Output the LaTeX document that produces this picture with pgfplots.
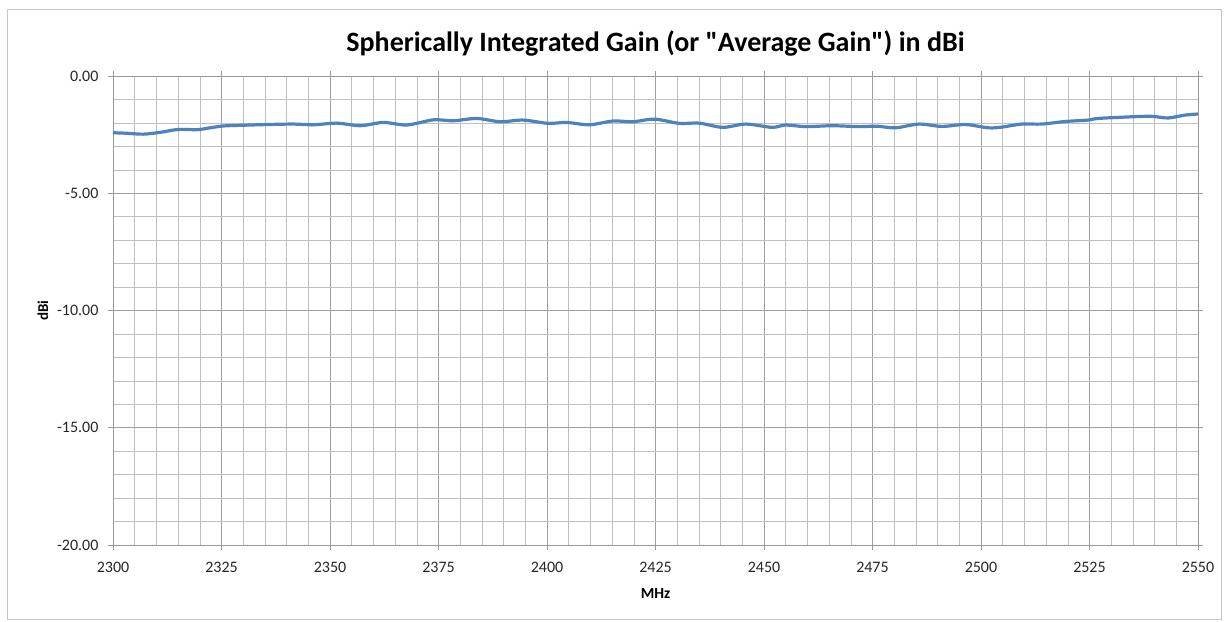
\documentclass[border=0pt]{standalone}
\usepackage{pgfplots}
\pgfplotsset{compat=1.18}
\usepackage{fontspec}
\setmainfont{Carlito}[Ligatures=TeXOff]
\definecolor{exblue}{HTML}{4F81BD}
\begin{document}
\begin{tikzpicture}[x=1pt,y=1pt]
\path[use as bounding box] (-113,-76) rectangle (1112,545);
\draw[gray!45, line width=1pt] (-105,-74) rectangle (1108,535);
\begin{axis}[
  at={(0,0)}, anchor=south west,
  scale only axis, width=1085pt, height=469pt,
  xmin=2300, xmax=2550, ymin=-20, ymax=0,
  xtick={2300,2325,...,2550},
  ytick={-20,-15,...,0},
  minor x tick num=4, minor y tick num=4,
  grid=both,
  major grid style={gray!75, line width=0.6pt},
  minor grid style={gray!50, line width=0.5pt},
  axis line style={gray!80},
  tick style={gray!80, line width=0.6pt},
  major tick length=5pt, minor tick length=0pt,
  tick align=outside,
  xticklabel style={font=\fontsize{16}{18}\selectfont, text=black!85, yshift=-9pt},
  yticklabel style={font=\fontsize{16}{18}\selectfont, text=black!85, xshift=-6pt},
  /pgf/number format/assume math mode=true,
  x tick label style={/pgf/number format/.cd, fixed, 1000 sep={}},
  y tick label style={/pgf/number format/.cd, fixed, fixed zerofill, precision=2},
  scaled ticks=false,
  title={\bfseries Spherically Integrated Gain (or "Average Gain") in dBi},
  title style={font=\fontsize{28}{32}\selectfont, yshift=10pt},
  xlabel={\bfseries MHz},
  ylabel={\bfseries dBi},
  xlabel style={font=\fontsize{15.5}{18}\selectfont, yshift=-9pt},
  ylabel style={font=\fontsize{15}{18}\selectfont, yshift=2pt},
]
\addplot[exblue, line width=3.2pt, smooth, tension=0.5] coordinates {
(2300,-2.42) (2303,-2.44) (2307,-2.48) (2311,-2.40) (2315,-2.28) (2319.5,-2.29)
(2322,-2.22) (2325.5,-2.13) (2330,-2.10) (2335.5,-2.07) (2341.5,-2.05) (2346.3,-2.08)
(2351.6,-2.01) (2357,-2.12) (2362.3,-1.98) (2367.7,-2.09) (2373.8,-1.87) (2378.4,-1.91)
(2383.8,-1.81) (2389.2,-1.95) (2394.5,-1.88) (2400.3,-2.02) (2404.5,-1.98) (2409.8,-2.08)
(2415.2,-1.92) (2419.8,-1.95) (2424.8,-1.84) (2430.5,-2.02) (2435.1,-2.01) (2440.5,-2.19)
(2445.8,-2.05) (2451.9,-2.19) (2455,-2.09) (2459.6,-2.16) (2465.7,-2.12) (2471.9,-2.16)
(2476,-2.14) (2480.3,-2.21) (2485.7,-2.05) (2491,-2.15) (2496.4,-2.07) (2501.7,-2.21)
(2504.8,-2.18) (2509.4,-2.05) (2514,-2.05) (2519.4,-1.94) (2524.7,-1.88) (2527,-1.81)
(2534.7,-1.74) (2539.3,-1.72) (2543.1,-1.79) (2546.9,-1.67) (2550,-1.62)
};
\end{axis}
\end{tikzpicture}
\end{document}
